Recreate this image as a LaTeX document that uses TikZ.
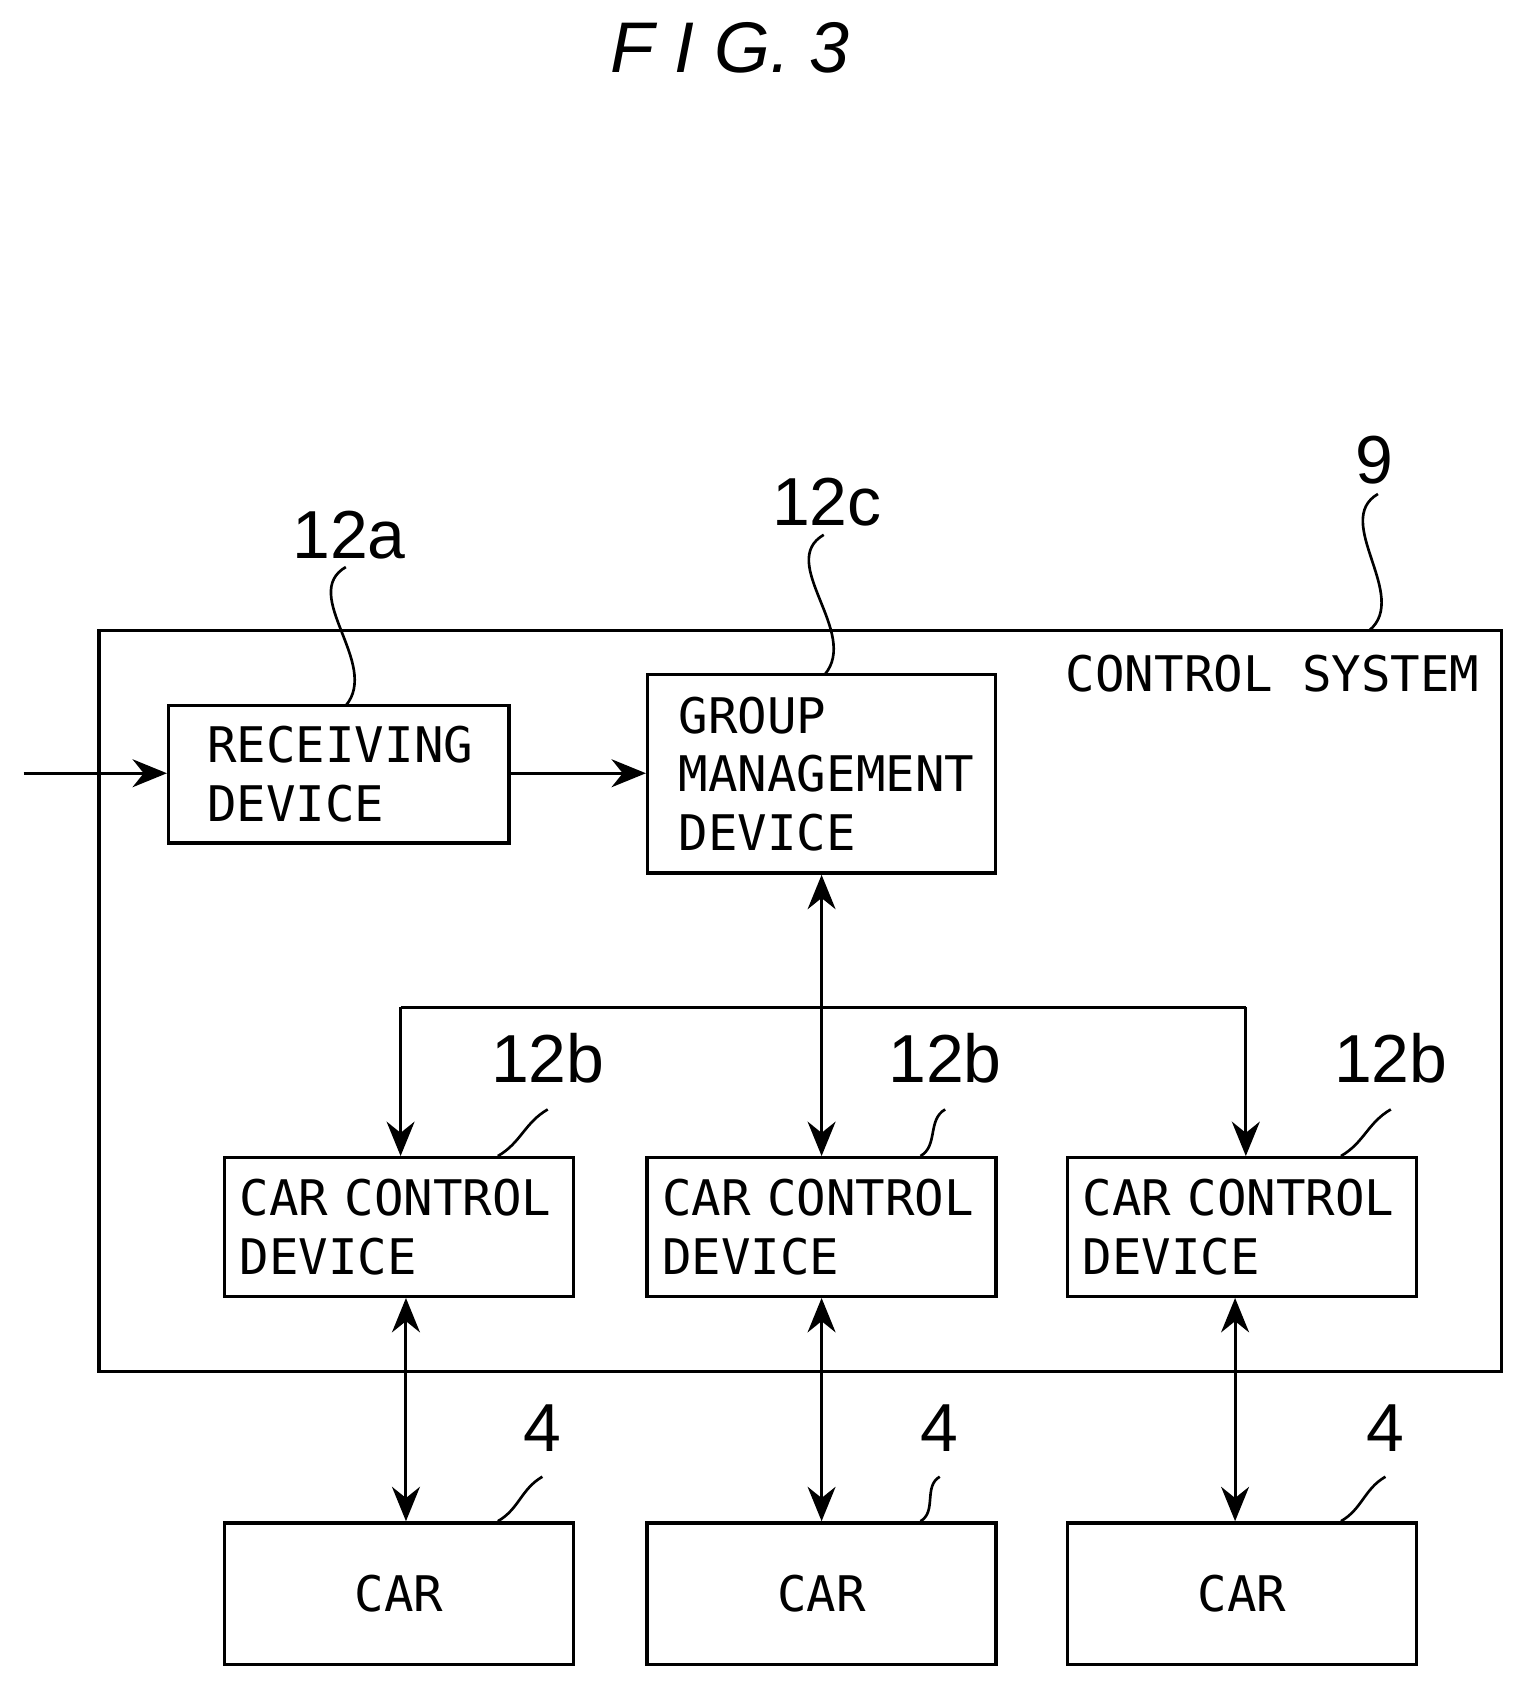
\documentclass[tikz,border=0pt]{standalone}
\usepackage{fontspec}
\setmainfont{Liberation Sans}
\setmonofont{DejaVu Sans Mono}
\usetikzlibrary{arrows.meta}
\begin{document}
\begin{tikzpicture}
[
Frame/.style={rectangle,draw=black,line width=0.9pt,inner sep=0pt},
Block/.style={rectangle,draw=black,line width=0.9pt,align=left,anchor=center,
  font=\ttfamily\fontsize{13}{15.5}\selectfont},
Link/.style={-{Stealth[length=3.2mm,width=2.6mm]},line width=0.8pt},
Both/.style={{Stealth[length=3.2mm,width=2.6mm]}-{Stealth[length=3.2mm,width=2.6mm]},line width=0.8pt},
Leader/.style={line width=0.7pt},
Num/.style={font=\fontsize{18}{20}\selectfont}
]
\useasboundingbox (0,0) rectangle (14.20,15.68);

\node[font=\itshape\fontsize{19}{21}\selectfont] (fig) at (6.80,15.23) {F I G. 3};

% control system frame
\node[Frame,minimum width=13.06cm,minimum height=6.90cm] (sys) at (7.45,6.36) {};
\node[font=\ttfamily\fontsize{13}{15}\selectfont,anchor=north east] (sysname) at (13.90,9.70) {CONTROL SYSTEM};

% blocks
\node[Block,minimum width=3.17cm,minimum height=1.28cm,text width=2.45cm,inner xsep=0.36cm] (recv) at (3.155,8.47) {RECEIVING\\DEVICE};
\node[Block,minimum width=3.24cm,minimum height=1.85cm,text width=2.66cm,inner xsep=0.29cm] (group) at (7.65,8.475) {GROUP\\MANAGEMENT\\DEVICE};
\foreach \n/\x in {1/3.715,2/7.65,3/11.565}{
  \node[Block,minimum width=3.25cm,minimum height=1.29cm,text width=2.97cm,inner xsep=0.14cm] (ccd\n) at (\x,4.255) {CAR CONTROL\\DEVICE};
  \node[Block,minimum width=3.25cm,minimum height=1.32cm,align=center,text width=2.97cm,inner xsep=0.14cm] (car\n) at (\x,0.84) {CAR};
}

% connectors
\coordinate (in) at (0.22,8.48);
\coordinate (busL) at (3.73,6.30);
\coordinate (busR) at (11.60,6.30);
\draw[Link] (in) -- (recv.west |- in);
\draw[Link] (recv.east |- in) -- (group.west |- in);
\draw[Both] (group.south) -- (ccd2.north);
\draw[line width=0.8pt] (busL) -- (busR);
\draw[Link] (busL) -- (ccd1.north -| busL);
\draw[Link] (busR) -- (ccd3.north -| busR);
\draw[Both] (ccd1.south -| 3.78,0) -- (car1.north -| 3.78,0);
\draw[Both] (ccd2.south) -- (car2.north);
\draw[Both] (ccd3.south -| 11.50,0) -- (car3.north -| 11.50,0);

% reference numerals
\node[Num] (n9) at (12.80,11.40) {9};
\node[Num] (n12a) at (3.25,10.70) {12a};
\node[Num] (n12c) at (7.70,11.00) {12c};
\draw[Leader] (12.83,11.08) to[out=-150,in=40] (12.75,9.81);
\draw[Leader] (3.22,10.40) to[out=-150,in=50] (3.22,9.11);
\draw[Leader] (7.67,10.70) to[out=-150,in=50] (7.68,9.40);
\foreach \n/\x in {1/5.10,2/8.80,3/12.95}{
  \node[Num] (nb\n) at (\x,5.83) {12b};
  \node[Num] (nc\n) at (\x-0.05,2.38) {4};
  \draw[Leader] (\x,5.35) to[out=-150,in=30] ([xshift=-0.72cm]ccd\n.north east);
  \draw[Leader] (\x-0.05,1.93) to[out=-150,in=30] ([xshift=-0.72cm]car\n.north east);
}
\end{tikzpicture}
\end{document}
